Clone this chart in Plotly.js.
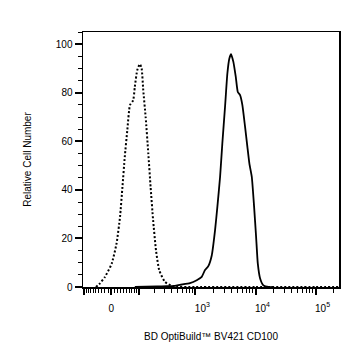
<!DOCTYPE html>
<html>
<head>
<meta charset="utf-8">
<script src="https://cdn.plot.ly/plotly-3.0.1.min.js"></script>
<style>html,body{margin:0;padding:0;background:#fff;}#chart{width:360px;height:355px;}</style>
</head>
<body>
<div id="chart"></div>
<script>
// Fluorescence intensity (raw, biexponential display) and relative cell number
const controlX = [-50, -36, -20, 1, 16, 27, 35, 43, 52, 62, 75, 82, 93, 106, 115, 124, 138, 155, 171, 190, 214, 244, 307, 424, 1000, 10000, 100000, 250000];
const controlY = [0, 1.5, 4.1, 9.6, 17.9, 28.8, 41.2, 53.6, 64.6, 74.9, 76.9, 82.4, 89.3, 91.8, 90, 81, 70, 55, 41.2, 27.5, 15.1, 6.9, 2.1, 0.3, 0, 0, 0, 0];

const stainX = [82, 222, 328, 454, 551, 811, 1051, 1274, 1445, 1640, 1871, 2124, 2320, 2574, 2807, 3114, 3404, 3674, 3923, 4285, 4698, 5074, 5540, 6051, 6711, 7330, 7918, 8683, 9482, 10238, 10925, 11933, 13543, 16408, 20000];
const stainY = [0, 0.2, 0.3, 0.5, 0.9, 1.6, 2.8, 4.2, 7, 8.6, 13, 23.4, 33, 45.3, 59.1, 74.2, 87.9, 94.1, 95.9, 92.7, 86.5, 80.3, 79, 74.9, 65.9, 57.7, 50.8, 45.3, 33, 20.6, 9.6, 3.5, 0.7, 0, 0];

const majorTickVals = [-100, 0, 100, 1000, 10000, 100000];
const pad = '&nbsp;&nbsp;&nbsp;&nbsp;&nbsp;';
const majorTickText = ['', '0', '', pad + '10<sup>3</sup>', pad + '10<sup>4</sup>', pad + '10<sup>5</sup>'];
const minorTickVals = [-90,-80,-70,-60,-50,-40,-30,-20,-10,10,20,30,40,50,60,70,80,90,
  200,300,400,500,600,700,800,900,2000,3000,4000,5000,6000,7000,8000,9000,
  20000,30000,40000,50000,60000,70000,80000,90000,200000];
const xRangeRaw = [-105, 245000];

const xTitle = 'BD OptiBuild™ BV421 CD100';
const yTitle = 'Relative Cell Number';

// biexponential-like (arcsinh) display scale
const W = 80;
const T = v => Math.asinh(v / W);

const traces = [
  {x: controlX.map(T), y: controlY, type: 'scatter', mode: 'lines',
   line: {color: '#000', width: 2, dash: '2px,2px', shape: 'spline', smoothing: 0.5}, hoverinfo: 'skip'},
  {x: stainX.map(T), y: stainY, type: 'scatter', mode: 'lines',
   line: {color: '#000', width: 1.8, shape: 'spline', smoothing: 0.5}, hoverinfo: 'skip'}
];

const font = {family: 'Liberation Sans, Arial, sans-serif', size: 10, color: '#000'};

const layout = {
  width: 360, height: 355,
  margin: {l: 83, r: 21, t: 32, b: 68},
  paper_bgcolor: '#fff', plot_bgcolor: '#fff',
  showlegend: false,
  font: font,
  xaxis: {
    range: xRangeRaw.map(T),
    tickmode: 'array', tickvals: majorTickVals.map(T), ticktext: majorTickText,
    ticks: 'outside', ticklen: 6, tickwidth: 2, tickcolor: '#000',
    ticklabelstandoff: 5,
    minor: {tickmode: 'array', tickvals: minorTickVals.map(T), ticks: 'outside', ticklen: 4, tickwidth: 1, tickcolor: '#000'},
    showline: true, linewidth: 1.5, linecolor: '#000', mirror: true,
    showgrid: false, zeroline: false,
    tickfont: {family: font.family, size: 10, color: '#000'},
    title: {text: xTitle, font: {family: font.family, size: 10, color: '#000'}, standoff: 20},
    automargin: false
  },
  yaxis: {
    range: [0, 105],
    tickmode: 'array', tickvals: [0, 20, 40, 60, 80, 100],
    ticks: 'outside', ticklen: 7, tickwidth: 2, tickcolor: '#000',
    minor: {tickmode: 'array', tickvals: [5,10,15,25,30,35,45,50,55,65,70,75,85,90,95,105], ticks: 'outside', ticklen: 4, tickwidth: 1, tickcolor: '#000'},
    showline: true, linewidth: 1.5, linecolor: '#000', mirror: true,
    showgrid: false, zeroline: false,
    tickfont: {family: font.family, size: 10, color: '#000'},
    title: {text: yTitle, font: {family: font.family, size: 10, color: '#000'}, standoff: 22},
    automargin: false
  }
};

Plotly.newPlot('chart', traces, layout, {staticPlot: true, displayModeBar: false});
</script>
</body>
</html>
